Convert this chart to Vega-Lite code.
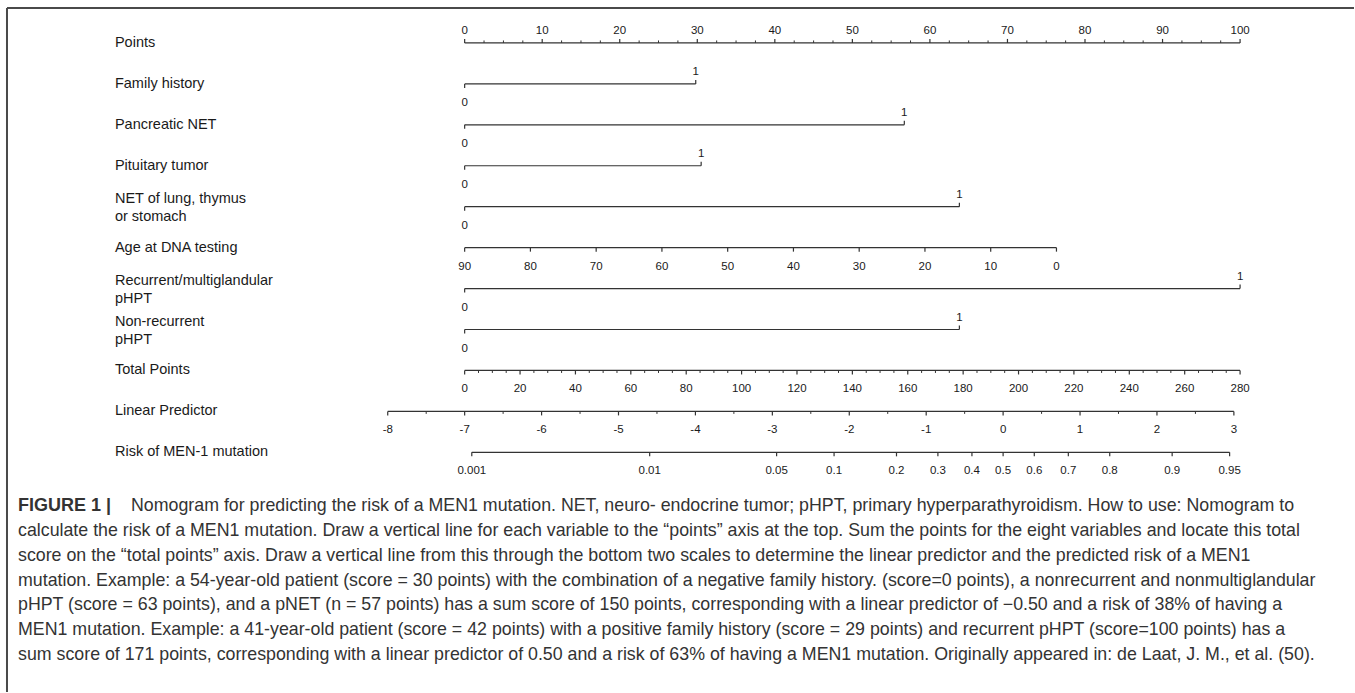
{
  "$schema": "https://vega.github.io/schema/vega-lite/v6.json",
  "width": 1355,
  "height": 693,
  "autosize": {"type": "fit", "contains": "padding"},
  "padding": 0,
  "background": "#ffffff",
  "config": {"view": {"stroke": null}},
  "datasets": {
    "axes": [
      {"row": 0, "name": "Points", "from": 0, "to": 100},
      {"row": 1, "name": "Family history", "from": 0, "to": 29.8},
      {"row": 2, "name": "Pancreatic NET", "from": 0, "to": 56.7},
      {"row": 3, "name": "Pituitary tumor", "from": 0, "to": 30.5},
      {"row": 4, "name": "NET of lung, thymus\nor stomach", "from": 0, "to": 63.8},
      {"row": 5, "name": "Age at DNA testing", "from": 0, "to": 76.32},
      {"row": 6, "name": "Recurrent/multiglandular\npHPT", "from": 0, "to": 100},
      {"row": 7, "name": "Non-recurrent\npHPT", "from": 0, "to": 63.8},
      {"row": 8, "name": "Total Points", "from": 0, "to": 100},
      {"row": 9, "name": "Linear Predictor", "from": -9.92, "to": 99.2},
      {"row": 10, "name": "Risk of MEN-1 mutation", "from": 0.92, "to": 98.65}
    ],
    "labels": [
      {"row": 0, "pos": 0, "text": "0", "side": "above"},
      {"row": 0, "pos": 10, "text": "10", "side": "above"},
      {"row": 0, "pos": 20, "text": "20", "side": "above"},
      {"row": 0, "pos": 30, "text": "30", "side": "above"},
      {"row": 0, "pos": 40, "text": "40", "side": "above"},
      {"row": 0, "pos": 50, "text": "50", "side": "above"},
      {"row": 0, "pos": 60, "text": "60", "side": "above"},
      {"row": 0, "pos": 70, "text": "70", "side": "above"},
      {"row": 0, "pos": 80, "text": "80", "side": "above"},
      {"row": 0, "pos": 90, "text": "90", "side": "above"},
      {"row": 0, "pos": 100, "text": "100", "side": "above"},
      {"row": 1, "pos": 0, "text": "0", "side": "below"},
      {"row": 1, "pos": 29.8, "text": "1", "side": "above"},
      {"row": 2, "pos": 0, "text": "0", "side": "below"},
      {"row": 2, "pos": 56.7, "text": "1", "side": "above"},
      {"row": 3, "pos": 0, "text": "0", "side": "below"},
      {"row": 3, "pos": 30.5, "text": "1", "side": "above"},
      {"row": 4, "pos": 0, "text": "0", "side": "below"},
      {"row": 4, "pos": 63.8, "text": "1", "side": "above"},
      {"row": 5, "pos": 0, "text": "90", "side": "below"},
      {"row": 5, "pos": 8.48, "text": "80", "side": "below"},
      {"row": 5, "pos": 16.96, "text": "70", "side": "below"},
      {"row": 5, "pos": 25.44, "text": "60", "side": "below"},
      {"row": 5, "pos": 33.92, "text": "50", "side": "below"},
      {"row": 5, "pos": 42.4, "text": "40", "side": "below"},
      {"row": 5, "pos": 50.88, "text": "30", "side": "below"},
      {"row": 5, "pos": 59.36, "text": "20", "side": "below"},
      {"row": 5, "pos": 67.84, "text": "10", "side": "below"},
      {"row": 5, "pos": 76.32, "text": "0", "side": "below"},
      {"row": 6, "pos": 0, "text": "0", "side": "below"},
      {"row": 6, "pos": 100, "text": "1", "side": "above"},
      {"row": 7, "pos": 0, "text": "0", "side": "below"},
      {"row": 7, "pos": 63.8, "text": "1", "side": "above"},
      {"row": 8, "pos": 0, "text": "0", "side": "below"},
      {"row": 8, "pos": 7.143, "text": "20", "side": "below"},
      {"row": 8, "pos": 14.286, "text": "40", "side": "below"},
      {"row": 8, "pos": 21.429, "text": "60", "side": "below"},
      {"row": 8, "pos": 28.571, "text": "80", "side": "below"},
      {"row": 8, "pos": 35.714, "text": "100", "side": "below"},
      {"row": 8, "pos": 42.857, "text": "120", "side": "below"},
      {"row": 8, "pos": 50, "text": "140", "side": "below"},
      {"row": 8, "pos": 57.143, "text": "160", "side": "below"},
      {"row": 8, "pos": 64.286, "text": "180", "side": "below"},
      {"row": 8, "pos": 71.429, "text": "200", "side": "below"},
      {"row": 8, "pos": 78.571, "text": "220", "side": "below"},
      {"row": 8, "pos": 85.714, "text": "240", "side": "below"},
      {"row": 8, "pos": 92.857, "text": "260", "side": "below"},
      {"row": 8, "pos": 100, "text": "280", "side": "below"},
      {"row": 9, "pos": -9.92, "text": "-8", "side": "below"},
      {"row": 9, "pos": 0, "text": "-7", "side": "below"},
      {"row": 9, "pos": 9.92, "text": "-6", "side": "below"},
      {"row": 9, "pos": 19.84, "text": "-5", "side": "below"},
      {"row": 9, "pos": 29.76, "text": "-4", "side": "below"},
      {"row": 9, "pos": 39.68, "text": "-3", "side": "below"},
      {"row": 9, "pos": 49.6, "text": "-2", "side": "below"},
      {"row": 9, "pos": 59.52, "text": "-1", "side": "below"},
      {"row": 9, "pos": 69.44, "text": "0", "side": "below"},
      {"row": 9, "pos": 79.36, "text": "1", "side": "below"},
      {"row": 9, "pos": 89.28, "text": "2", "side": "below"},
      {"row": 9, "pos": 99.2, "text": "3", "side": "below"},
      {"row": 10, "pos": 0.92, "text": "0.001", "side": "below"},
      {"row": 10, "pos": 23.86, "text": "0.01", "side": "below"},
      {"row": 10, "pos": 40.23, "text": "0.05", "side": "below"},
      {"row": 10, "pos": 47.64, "text": "0.1", "side": "below"},
      {"row": 10, "pos": 55.69, "text": "0.2", "side": "below"},
      {"row": 10, "pos": 61.03, "text": "0.3", "side": "below"},
      {"row": 10, "pos": 65.42, "text": "0.4", "side": "below"},
      {"row": 10, "pos": 69.44, "text": "0.5", "side": "below"},
      {"row": 10, "pos": 73.46, "text": "0.6", "side": "below"},
      {"row": 10, "pos": 77.85, "text": "0.7", "side": "below"},
      {"row": 10, "pos": 83.19, "text": "0.8", "side": "below"},
      {"row": 10, "pos": 91.24, "text": "0.9", "side": "below"},
      {"row": 10, "pos": 98.65, "text": "0.95", "side": "below"}
    ],
    "minor": [
      {"row": 0, "pos": 2.5, "side": "above"}, {"row": 0, "pos": 5, "side": "above"}, {"row": 0, "pos": 7.5, "side": "above"},
      {"row": 0, "pos": 12.5, "side": "above"}, {"row": 0, "pos": 15, "side": "above"}, {"row": 0, "pos": 17.5, "side": "above"},
      {"row": 0, "pos": 22.5, "side": "above"}, {"row": 0, "pos": 25, "side": "above"}, {"row": 0, "pos": 27.5, "side": "above"},
      {"row": 0, "pos": 32.5, "side": "above"}, {"row": 0, "pos": 35, "side": "above"}, {"row": 0, "pos": 37.5, "side": "above"},
      {"row": 0, "pos": 42.5, "side": "above"}, {"row": 0, "pos": 45, "side": "above"}, {"row": 0, "pos": 47.5, "side": "above"},
      {"row": 0, "pos": 52.5, "side": "above"}, {"row": 0, "pos": 55, "side": "above"}, {"row": 0, "pos": 57.5, "side": "above"},
      {"row": 0, "pos": 62.5, "side": "above"}, {"row": 0, "pos": 65, "side": "above"}, {"row": 0, "pos": 67.5, "side": "above"},
      {"row": 0, "pos": 72.5, "side": "above"}, {"row": 0, "pos": 75, "side": "above"}, {"row": 0, "pos": 77.5, "side": "above"},
      {"row": 0, "pos": 82.5, "side": "above"}, {"row": 0, "pos": 85, "side": "above"}, {"row": 0, "pos": 87.5, "side": "above"},
      {"row": 0, "pos": 92.5, "side": "above"}, {"row": 0, "pos": 95, "side": "above"}, {"row": 0, "pos": 97.5, "side": "above"},
      {"row": 8, "pos": 1.786, "side": "below"}, {"row": 8, "pos": 3.571, "side": "below"}, {"row": 8, "pos": 5.357, "side": "below"},
      {"row": 8, "pos": 8.929, "side": "below"}, {"row": 8, "pos": 10.714, "side": "below"}, {"row": 8, "pos": 12.5, "side": "below"},
      {"row": 8, "pos": 16.071, "side": "below"}, {"row": 8, "pos": 17.857, "side": "below"}, {"row": 8, "pos": 19.643, "side": "below"},
      {"row": 8, "pos": 23.214, "side": "below"}, {"row": 8, "pos": 25, "side": "below"}, {"row": 8, "pos": 26.786, "side": "below"},
      {"row": 8, "pos": 30.357, "side": "below"}, {"row": 8, "pos": 32.143, "side": "below"}, {"row": 8, "pos": 33.929, "side": "below"},
      {"row": 8, "pos": 37.5, "side": "below"}, {"row": 8, "pos": 39.286, "side": "below"}, {"row": 8, "pos": 41.071, "side": "below"},
      {"row": 8, "pos": 44.643, "side": "below"}, {"row": 8, "pos": 46.429, "side": "below"}, {"row": 8, "pos": 48.214, "side": "below"},
      {"row": 8, "pos": 51.786, "side": "below"}, {"row": 8, "pos": 53.571, "side": "below"}, {"row": 8, "pos": 55.357, "side": "below"},
      {"row": 8, "pos": 58.929, "side": "below"}, {"row": 8, "pos": 60.714, "side": "below"}, {"row": 8, "pos": 62.5, "side": "below"},
      {"row": 8, "pos": 66.071, "side": "below"}, {"row": 8, "pos": 67.857, "side": "below"}, {"row": 8, "pos": 69.643, "side": "below"},
      {"row": 8, "pos": 73.214, "side": "below"}, {"row": 8, "pos": 75, "side": "below"}, {"row": 8, "pos": 76.786, "side": "below"},
      {"row": 8, "pos": 80.357, "side": "below"}, {"row": 8, "pos": 82.143, "side": "below"}, {"row": 8, "pos": 83.929, "side": "below"},
      {"row": 8, "pos": 87.5, "side": "below"}, {"row": 8, "pos": 89.286, "side": "below"}, {"row": 8, "pos": 91.071, "side": "below"},
      {"row": 8, "pos": 94.643, "side": "below"}, {"row": 8, "pos": 96.429, "side": "below"}, {"row": 8, "pos": 98.214, "side": "below"},
      {"row": 9, "pos": -4.96, "side": "below"}, {"row": 9, "pos": 4.96, "side": "below"}, {"row": 9, "pos": 14.88, "side": "below"},
      {"row": 9, "pos": 24.8, "side": "below"}, {"row": 9, "pos": 34.72, "side": "below"}, {"row": 9, "pos": 44.64, "side": "below"},
      {"row": 9, "pos": 54.56, "side": "below"}, {"row": 9, "pos": 64.48, "side": "below"}, {"row": 9, "pos": 74.4, "side": "below"},
      {"row": 9, "pos": 84.32, "side": "below"}, {"row": 9, "pos": 94.24, "side": "below"}
    ],
    "caption": [
      {"line": 1, "part": "head", "text": "FIGURE 1 |"},
      {"line": 1, "part": "body", "text": "Nomogram for predicting the risk of a MEN1 mutation. NET, neuro- endocrine tumor; pHPT, primary hyperparathyroidism. How to use: Nomogram to"},
      {"line": 2, "part": "body", "text": "calculate the risk of a MEN1 mutation. Draw a vertical line for each variable to the “points” axis at the top. Sum the points for the eight variables and locate this total"},
      {"line": 3, "part": "body", "text": "score on the “total points” axis. Draw a vertical line from this through the bottom two scales to determine the linear predictor and the predicted risk of a MEN1"},
      {"line": 4, "part": "body", "text": "mutation. Example: a 54-year-old patient (score = 30 points) with the combination of a negative family history. (score=0 points), a nonrecurrent and nonmultiglandular"},
      {"line": 5, "part": "body", "text": "pHPT (score = 63 points), and a pNET (n = 57 points) has a sum score of 150 points, corresponding with a linear predictor of −0.50 and a risk of 38% of having a"},
      {"line": 6, "part": "body", "text": "MEN1 mutation. Example: a 41-year-old patient (score =  42 points) with a positive family history (score = 29 points) and recurrent pHPT (score=100 points) has a"},
      {"line": 7, "part": "body", "text": "sum score of 171 points, corresponding with a linear predictor of 0.50 and a risk of 63% of having a MEN1 mutation. Originally appeared in: de Laat, J. M., et al. (50)."}
    ]
  },
  "layer": [
    {
      "layer": [
        {
          "data": {"values": [{"k": 1}]},
          "mark": {"type": "rule", "color": "#4a4a4a", "strokeWidth": 2},
          "encoding": {
            "x": {"datum": -59.021, "type": "quantitative", "scale": {"domain": [-59.923, 114.691], "nice": false, "zero": false}, "axis": null},
            "x2": {"datum": 114.691},
            "y": {"datum": -0.8537, "type": "quantitative", "scale": {"domain": [-1.0488, 15.8537], "reverse": true, "nice": false, "zero": false}, "axis": null}
          }
        },
        {
          "data": {"values": [{"k": 1}]},
          "mark": {"type": "rule", "color": "#4a4a4a", "strokeWidth": 2},
          "encoding": {
            "x": {"datum": -59.021, "type": "quantitative", "scale": {"domain": [-59.923, 114.691], "nice": false, "zero": false}, "axis": null},
            "y": {"datum": -0.8537, "type": "quantitative", "scale": {"domain": [-1.0488, 15.8537], "reverse": true, "nice": false, "zero": false}, "axis": null},
            "y2": {"datum": 15.8537}
          }
        },
        {
          "data": {"name": "axes"},
          "mark": {"type": "rule", "color": "#333333", "strokeWidth": 1.2},
          "encoding": {
            "x": {"field": "from", "type": "quantitative", "scale": {"domain": [-59.923, 114.691], "nice": false, "zero": false}, "axis": null},
            "x2": {"field": "to"},
            "y": {"field": "row", "type": "quantitative", "scale": {"domain": [-1.0488, 15.8537], "reverse": true, "nice": false, "zero": false}, "axis": null}
          }
        },
        {
          "data": {"name": "axes"},
          "transform": [{"filter": "indexof(datum.name, '\\n') < 0"}],
          "mark": {"type": "text", "align": "left", "baseline": "middle", "font": "Liberation Sans, Arial, sans-serif", "fontSize": 14.5, "color": "#1a1a1a"},
          "encoding": {
            "x": {"datum": -45.1, "type": "quantitative", "scale": {"domain": [-59.923, 114.691], "nice": false, "zero": false}, "axis": null},
            "y": {"field": "row", "type": "quantitative", "scale": {"domain": [-1.0488, 15.8537], "reverse": true, "nice": false, "zero": false}, "axis": null},
            "text": {"field": "name"}
          }
        },
        {
          "data": {"name": "axes"},
          "transform": [{"filter": "indexof(datum.name, '\\n') >= 0"}],
          "mark": {"type": "text", "align": "left", "baseline": "middle", "lineBreak": "\n", "lineHeight": 18, "dy": -8, "font": "Liberation Sans, Arial, sans-serif", "fontSize": 14.5, "color": "#1a1a1a"},
          "encoding": {
            "x": {"datum": -45.1, "type": "quantitative", "scale": {"domain": [-59.923, 114.691], "nice": false, "zero": false}, "axis": null},
            "y": {"field": "row", "type": "quantitative", "scale": {"domain": [-1.0488, 15.8537], "reverse": true, "nice": false, "zero": false}, "axis": null},
            "text": {"field": "name"}
          }
        },
        {
          "data": {"name": "labels"},
          "transform": [{"filter": "datum.side === 'above'"}],
          "mark": {"type": "rule", "color": "#333333", "strokeWidth": 1.2, "y2Offset": -4},
          "encoding": {
            "x": {"field": "pos", "type": "quantitative", "scale": {"domain": [-59.923, 114.691], "nice": false, "zero": false}, "axis": null},
            "y": {"field": "row", "type": "quantitative", "scale": {"domain": [-1.0488, 15.8537], "reverse": true, "nice": false, "zero": false}, "axis": null},
            "y2": {"field": "row"}
          }
        },
        {
          "data": {"name": "labels"},
          "transform": [{"filter": "datum.side === 'below'"}],
          "mark": {"type": "rule", "color": "#333333", "strokeWidth": 1.2, "y2Offset": 4},
          "encoding": {
            "x": {"field": "pos", "type": "quantitative", "scale": {"domain": [-59.923, 114.691], "nice": false, "zero": false}, "axis": null},
            "y": {"field": "row", "type": "quantitative", "scale": {"domain": [-1.0488, 15.8537], "reverse": true, "nice": false, "zero": false}, "axis": null},
            "y2": {"field": "row"}
          }
        },
        {
          "data": {"name": "minor"},
          "transform": [{"filter": "datum.side === 'above'"}],
          "mark": {"type": "rule", "color": "#333333", "strokeWidth": 1, "y2Offset": -2.5},
          "encoding": {
            "x": {"field": "pos", "type": "quantitative", "scale": {"domain": [-59.923, 114.691], "nice": false, "zero": false}, "axis": null},
            "y": {"field": "row", "type": "quantitative", "scale": {"domain": [-1.0488, 15.8537], "reverse": true, "nice": false, "zero": false}, "axis": null},
            "y2": {"field": "row"}
          }
        },
        {
          "data": {"name": "minor"},
          "transform": [{"filter": "datum.side === 'below'"}],
          "mark": {"type": "rule", "color": "#333333", "strokeWidth": 1, "y2Offset": 2.5},
          "encoding": {
            "x": {"field": "pos", "type": "quantitative", "scale": {"domain": [-59.923, 114.691], "nice": false, "zero": false}, "axis": null},
            "y": {"field": "row", "type": "quantitative", "scale": {"domain": [-1.0488, 15.8537], "reverse": true, "nice": false, "zero": false}, "axis": null},
            "y2": {"field": "row"}
          }
        },
        {
          "data": {"name": "labels"},
          "transform": [{"filter": "datum.side === 'above'"}],
          "mark": {"type": "text", "align": "center", "baseline": "middle", "dy": -12, "font": "Liberation Sans, Arial, sans-serif", "fontSize": 11.5, "color": "#1a1a1a"},
          "encoding": {
            "x": {"field": "pos", "type": "quantitative", "scale": {"domain": [-59.923, 114.691], "nice": false, "zero": false}, "axis": null},
            "y": {"field": "row", "type": "quantitative", "scale": {"domain": [-1.0488, 15.8537], "reverse": true, "nice": false, "zero": false}, "axis": null},
            "text": {"field": "text"}
          }
        },
        {
          "data": {"name": "labels"},
          "transform": [{"filter": "datum.side === 'below'"}],
          "mark": {"type": "text", "align": "center", "baseline": "middle", "dy": 19, "font": "Liberation Sans, Arial, sans-serif", "fontSize": 11.5, "color": "#1a1a1a"},
          "encoding": {
            "x": {"field": "pos", "type": "quantitative", "scale": {"domain": [-59.923, 114.691], "nice": false, "zero": false}, "axis": null},
            "y": {"field": "row", "type": "quantitative", "scale": {"domain": [-1.0488, 15.8537], "reverse": true, "nice": false, "zero": false}, "axis": null},
            "text": {"field": "text"}
          }
        }
      ]
    },
    {
      "data": {"name": "caption"},
      "layer": [
        {
          "transform": [{"filter": "datum.part === 'head'"}],
          "mark": {"type": "text", "align": "left", "baseline": "middle", "font": "Liberation Sans, Arial, sans-serif", "fontSize": 18, "fontWeight": "bold", "color": "#333333"},
          "encoding": {
            "x": {"datum": -57.6, "type": "quantitative", "scale": {"domain": [-59.923, 114.691], "nice": false, "zero": false}, "axis": null},
            "y": {"field": "line", "type": "quantitative", "scale": {"domain": [-19.444, 8.5], "reverse": true, "nice": false, "zero": false}, "axis": null},
            "text": {"field": "text"}
          }
        },
        {
          "transform": [{"filter": "datum.part === 'body' && datum.line === 1"}],
          "mark": {"type": "text", "align": "left", "baseline": "middle", "dx": 113, "font": "Liberation Sans, Arial, sans-serif", "fontSize": 17.8, "color": "#333333"},
          "encoding": {
            "x": {"datum": -57.6, "type": "quantitative", "scale": {"domain": [-59.923, 114.691], "nice": false, "zero": false}, "axis": null},
            "y": {"field": "line", "type": "quantitative", "scale": {"domain": [-19.444, 8.5], "reverse": true, "nice": false, "zero": false}, "axis": null},
            "text": {"field": "text"}
          }
        },
        {
          "transform": [{"filter": "datum.part === 'body' && datum.line > 1"}],
          "mark": {"type": "text", "align": "left", "baseline": "middle", "font": "Liberation Sans, Arial, sans-serif", "fontSize": 17.8, "color": "#333333"},
          "encoding": {
            "x": {"datum": -57.6, "type": "quantitative", "scale": {"domain": [-59.923, 114.691], "nice": false, "zero": false}, "axis": null},
            "y": {"field": "line", "type": "quantitative", "scale": {"domain": [-19.444, 8.5], "reverse": true, "nice": false, "zero": false}, "axis": null},
            "text": {"field": "text"}
          }
        }
      ]
    }
  ],
  "resolve": {"scale": {"y": "independent"}}
}
